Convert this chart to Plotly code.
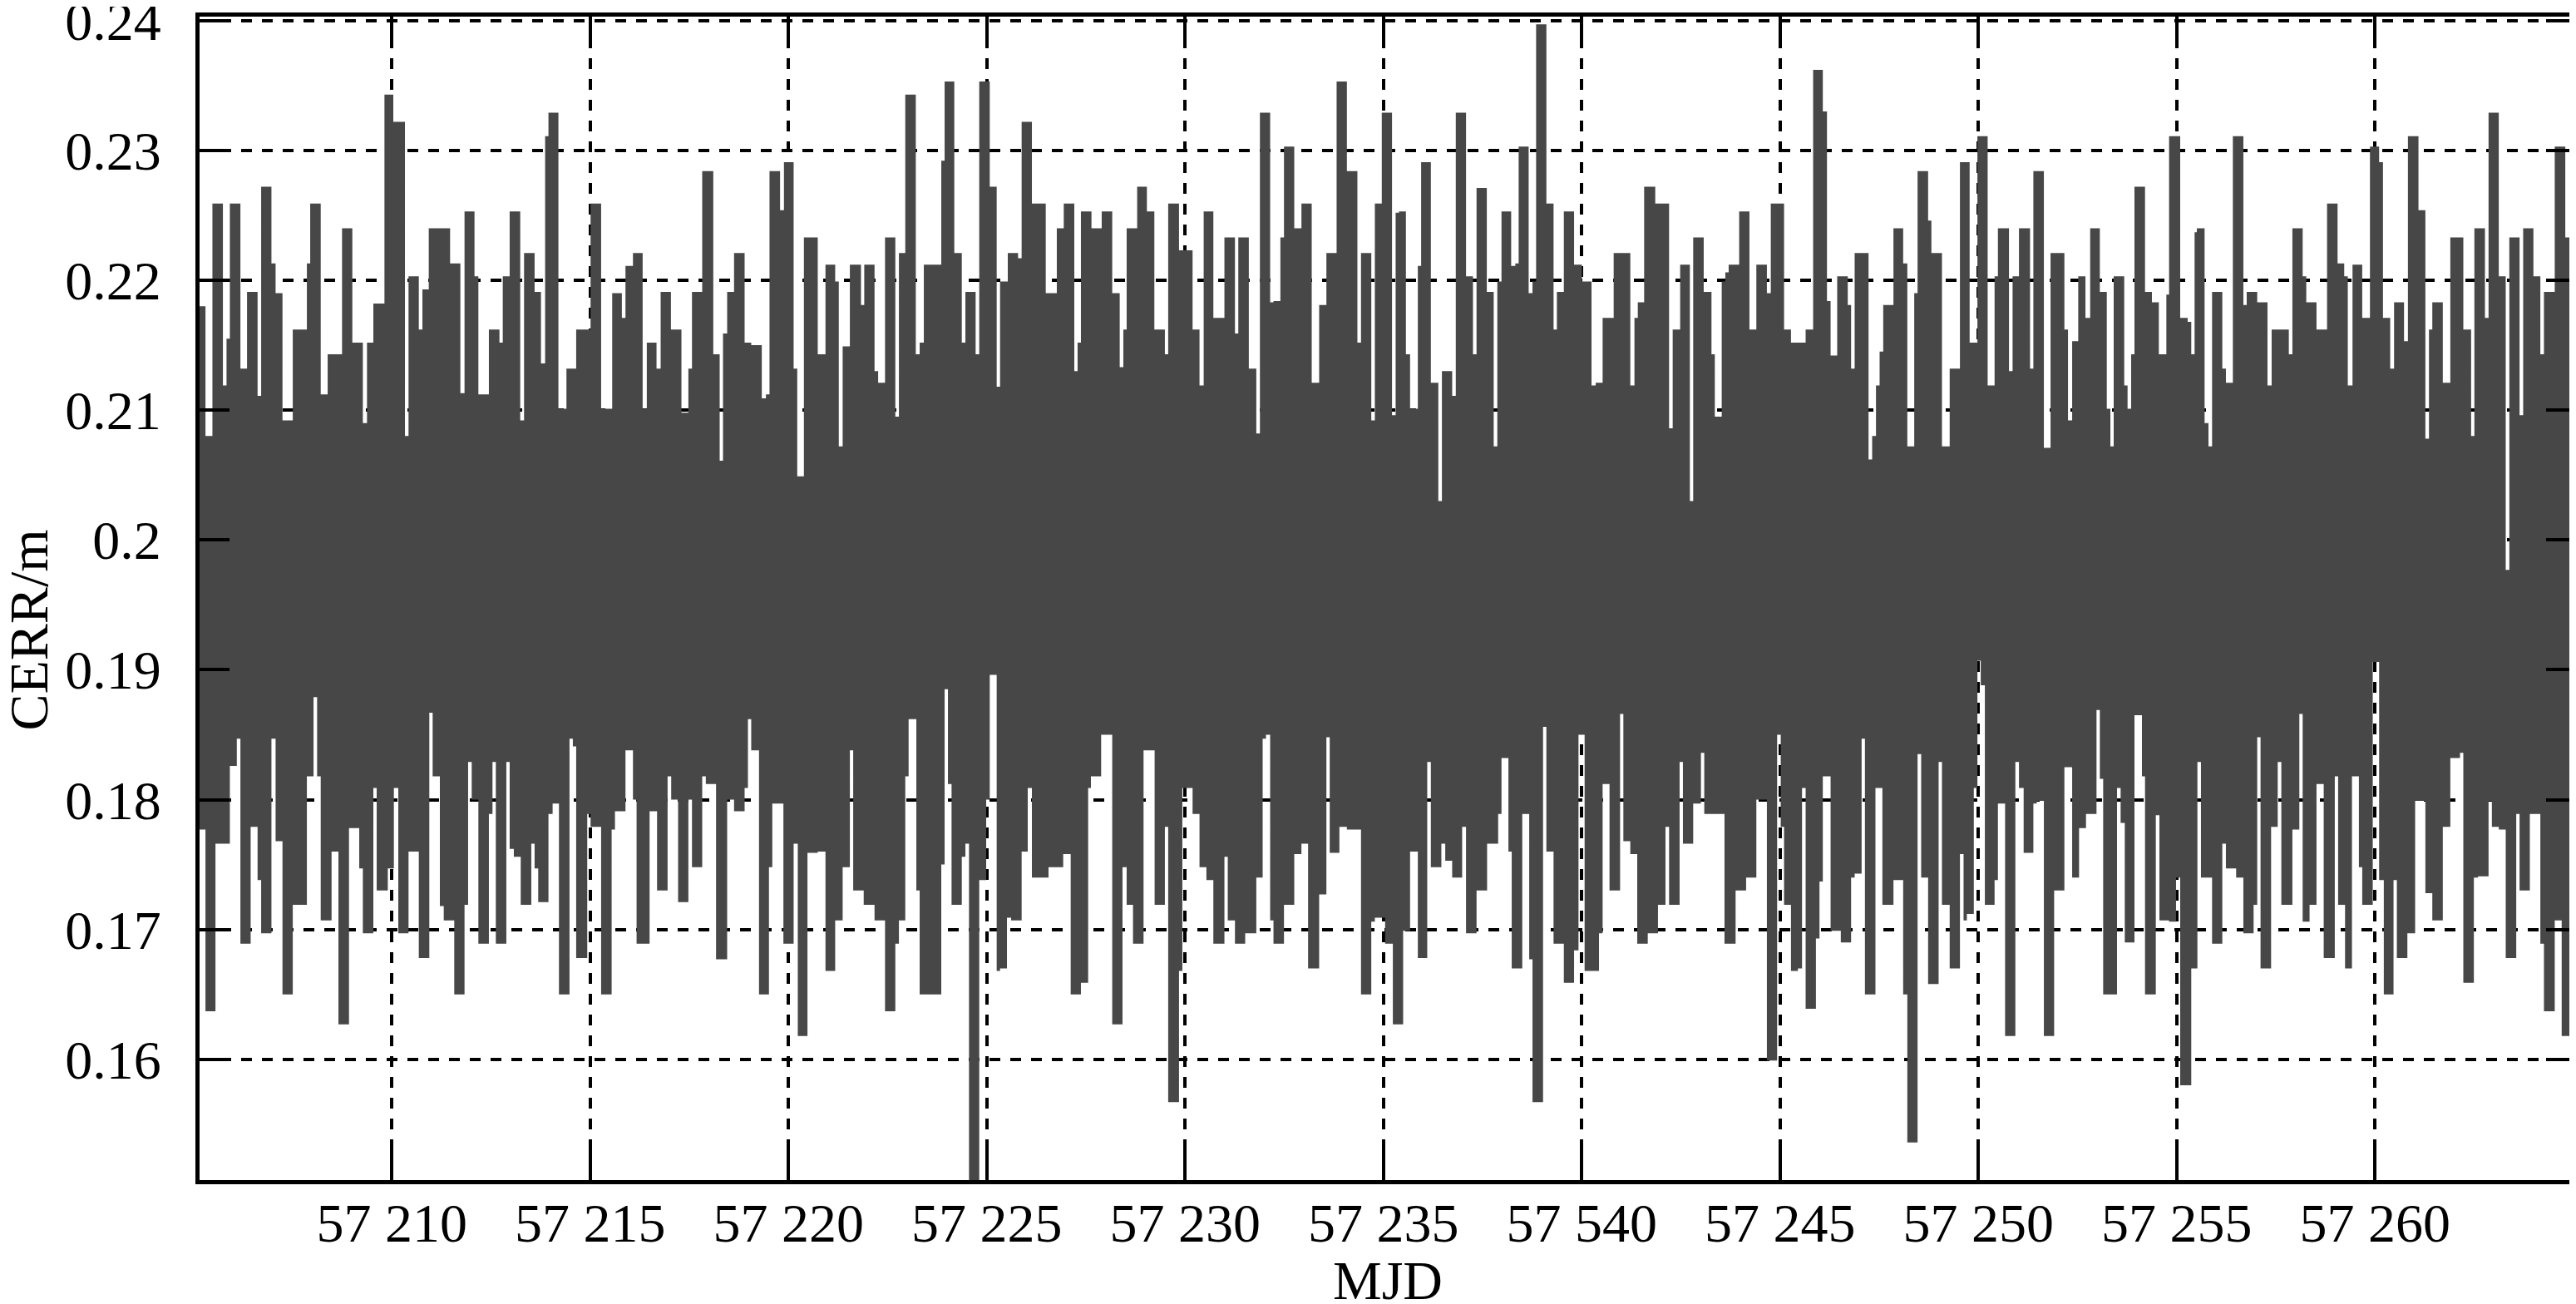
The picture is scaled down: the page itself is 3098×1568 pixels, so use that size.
import plotly.graph_objects as go

# upper edge of the CERR band: step starts (MJD) and values (m)
top_mjd = [
    57205.15, 57205.299, 57205.474, 57205.739, 57205.830, 57205.914, 57206.180, 57206.347, 57206.613, 57206.703,
    57206.962, 57207.067, 57207.241, 57207.500, 57207.856, 57207.940, 57208.205, 57208.380, 57208.743, 57209.002,
    57209.267, 57209.372, 57209.532, 57209.812, 57210.035, 57210.329, 57210.419, 57210.678, 57210.769, 57210.929,
    57211.467, 57211.726, 57211.831, 57212.082, 57212.180, 57212.445, 57212.711, 57212.795, 57212.969, 57213.235,
    57213.332, 57213.598, 57213.758, 57213.863, 57213.947, 57214.198, 57214.401, 57214.646, 57215.009,
    57215.275, 57215.554, 57215.798, 57215.889, 57216.078, 57216.322, 57216.427, 57216.672, 57216.776, 57217.035,
    57217.300, 57217.475, 57217.566, 57217.824, 57218.103, 57218.264, 57218.348, 57218.453, 57218.627, 57218.893,
    57219.060, 57219.326, 57219.431, 57219.521, 57219.787, 57219.885, 57220.129, 57220.220, 57220.388, 57220.737,
    57220.932, 57221.177, 57221.268, 57221.365, 57221.547, 57221.827, 57221.910, 57222.169, 57222.260, 57222.434,
    57222.693, 57222.784, 57222.944, 57223.209, 57223.307, 57223.412, 57223.852, 57223.936, 57224.180, 57224.369,
    57224.460, 57224.718, 57224.809, 57225.074, 57225.249,
    57225.334, 57225.529, 57225.788, 57225.878, 57226.137, 57226.486, 57226.765, 57226.940, 57227.206, 57227.289,
    57227.373, 57227.639, 57227.897, 57228.162, 57228.351, 57228.442, 57228.526, 57228.791, 57229.036, 57229.224,
    57229.490, 57229.573, 57229.846, 57230.188, 57230.363, 57230.468, 57230.712, 57230.991, 57231.257, 57231.341,
    57231.606, 57231.795, 57231.886, 57232.144, 57232.228, 57232.402, 57232.493, 57232.752, 57232.933, 57233.192,
    57233.380, 57233.562, 57233.820, 57234.079, 57234.344, 57234.435, 57234.694, 57234.784, 57234.959, 57235.217,
    57235.308,
    57235.393, 57235.567, 57235.672, 57235.868, 57235.951, 57236.196, 57236.384, 57236.475, 57236.734, 57236.825,
    57237.083, 57237.258, 57237.348, 57237.607, 57237.781, 57237.872, 57237.977, 57238.221, 57238.326, 57238.410,
    57238.662, 57238.759, 57238.850, 57239.109, 57239.290, 57239.374, 57239.549, 57239.807, 57240.003, 57240.247,
    57240.352, 57240.527, 57240.806, 57241.225, 57241.330, 57241.414, 57241.574, 57241.854, 57242.203, 57242.294,
    57242.482, 57242.727, 57242.811, 57243.076, 57243.272, 57243.356, 57243.530, 57243.621, 57243.705, 57243.970,
    57244.229, 57244.403, 57244.669, 57244.767, 57245.102, 57245.276,
    57245.451, 57245.646, 57245.835, 57246.079, 57246.184, 57246.275, 57246.442, 57246.708, 57246.792, 57246.882,
    57247.232, 57247.323, 57247.420, 57247.511, 57247.602, 57247.860, 57248.105, 57248.210, 57248.384, 57248.468,
    57248.734, 57248.817, 57249.083, 57249.278, 57249.537, 57249.781, 57249.977, 57250.235, 57250.410, 57250.494,
    57250.773, 57250.864, 57251.025, 57251.304, 57251.388, 57251.653, 57251.821, 57252.170, 57252.261, 57252.366,
    57252.519, 57252.701, 57252.820, 57253.064, 57253.239, 57253.330, 57253.413, 57253.679, 57253.763, 57253.853,
    57253.937, 57254.203, 57254.377, 57254.552, 57254.741, 57254.810, 57255.090, 57255.278, 57255.369, 57255.453,
    57255.510, 57255.705, 57255.803, 57255.894, 57256.152, 57256.243, 57256.418, 57256.683, 57256.767, 57257.032,
    57257.291, 57257.396, 57257.829, 57257.919, 57258.178, 57258.269, 57258.527, 57258.793, 57259.058, 57259.226,
    57259.316, 57259.435, 57259.680, 57259.875, 57260.106, 57260.203, 57260.385, 57260.483, 57260.734, 57260.832,
    57261.098, 57261.272, 57261.363, 57261.447, 57261.712, 57261.901, 57262.229, 57262.425, 57262.508, 57262.774,
    57262.865, 57263.123, 57263.298, 57263.389, 57263.647, 57263.738, 57263.996, 57264.171, 57264.262, 57264.534,
    57264.800,
]
top_cerr = [
    0.2180, 0.2080, 0.2259, 0.2119, 0.2155, 0.2259, 0.2132, 0.2191, 0.2111, 0.2272,
    0.2213, 0.2190, 0.2092, 0.2162, 0.2213, 0.2259, 0.2112, 0.2143, 0.2240, 0.2152,
    0.2090, 0.2152, 0.2182, 0.2343, 0.2322, 0.2080, 0.2203, 0.2162, 0.2193, 0.2240,
    0.2213, 0.2113, 0.2253, 0.2203, 0.2112, 0.2162, 0.2152, 0.2203, 0.2253, 0.2092,
    0.2221, 0.2191, 0.2136, 0.2311, 0.2329, 0.2101, 0.2132, 0.2162, 0.2259,
    0.2101, 0.2190, 0.2171, 0.2211, 0.2221, 0.2101, 0.2152, 0.2132, 0.2191, 0.2162,
    0.2098, 0.2132, 0.2191, 0.2284, 0.2143, 0.2061, 0.2159, 0.2191, 0.2221, 0.2152,
    0.2150, 0.2109, 0.2112, 0.2284, 0.2254, 0.2291, 0.2132, 0.2049, 0.2233, 0.2143,
    0.2212, 0.2199, 0.2072, 0.2149, 0.2212, 0.2181, 0.2212, 0.2130, 0.2121, 0.2233,
    0.2095, 0.2221, 0.2343, 0.2143, 0.2152, 0.2212, 0.2292, 0.2353, 0.2221, 0.2152,
    0.2191, 0.2143, 0.2353, 0.2272, 0.2118,
    0.2199, 0.2221, 0.2217, 0.2322, 0.2259, 0.2190, 0.2240, 0.2259, 0.2130, 0.2152,
    0.2253, 0.2240, 0.2253, 0.2190, 0.2133, 0.2162, 0.2240, 0.2272, 0.2253, 0.2162,
    0.2143, 0.2259, 0.2223, 0.2162, 0.2119, 0.2253, 0.2171, 0.2233, 0.2159, 0.2233,
    0.2132, 0.2082, 0.2329, 0.2183, 0.2184, 0.2233, 0.2303, 0.2240, 0.2259, 0.2121,
    0.2181, 0.2221, 0.2353, 0.2284, 0.2152, 0.2221, 0.2092, 0.2259, 0.2329, 0.2096,
    0.2252,
    0.2253, 0.2143, 0.2101, 0.2211, 0.2291, 0.2121, 0.2030, 0.2130, 0.2111, 0.2329,
    0.2203, 0.2143, 0.2271, 0.2191, 0.2072, 0.2199, 0.2253, 0.2211, 0.2213, 0.2303,
    0.2190, 0.2199, 0.2397, 0.2259, 0.2162, 0.2191, 0.2253, 0.2212, 0.2199, 0.2119,
    0.2121, 0.2171, 0.2221, 0.2119, 0.2171, 0.2183, 0.2272, 0.2259, 0.2086, 0.2162,
    0.2212, 0.2030, 0.2233, 0.2191, 0.2143, 0.2095, 0.2199, 0.2206, 0.2212, 0.2253,
    0.2162, 0.2212, 0.2190, 0.2259, 0.2162, 0.2152,
    0.2152, 0.2162, 0.2362, 0.2330, 0.2184, 0.2142, 0.2203, 0.2181, 0.2132, 0.2221,
    0.2062, 0.2080, 0.2119, 0.2145, 0.2181, 0.2240, 0.2213, 0.2072, 0.2190, 0.2284,
    0.2246, 0.2221, 0.2072, 0.2132, 0.2291, 0.2152, 0.2311, 0.2119, 0.2203, 0.2240,
    0.2130, 0.2203, 0.2240, 0.2132, 0.2284, 0.2071, 0.2221, 0.2162, 0.2092, 0.2153,
    0.2203, 0.2171, 0.2240, 0.2191, 0.2101, 0.2072, 0.2203, 0.2119, 0.2101, 0.2143,
    0.2272, 0.2191, 0.2183, 0.2143, 0.2189, 0.2311, 0.2171, 0.2168, 0.2143, 0.2237,
    0.2240, 0.2090, 0.2072, 0.2191, 0.2132, 0.2121, 0.2311, 0.2181, 0.2191, 0.2183,
    0.2119, 0.2162, 0.2143, 0.2240, 0.2203, 0.2183, 0.2162, 0.2259, 0.2213, 0.2203,
    0.2119, 0.2212, 0.2171, 0.2303, 0.2291, 0.2171, 0.2132, 0.2183, 0.2153, 0.2311,
    0.2254, 0.2078, 0.2162, 0.2183, 0.2121, 0.2233, 0.2162, 0.2080, 0.2240, 0.2171,
    0.2329, 0.2203, 0.1977, 0.2233, 0.2096, 0.2240, 0.2203, 0.2143, 0.2191, 0.2303,
    0.2233,
]

# lower edge of the CERR band
bottom_mjd = [
    57205.15, 57205.299, 57205.551, 57205.914, 57206.089, 57206.180, 57206.438, 57206.613, 57206.703, 57206.962,
    57207.067, 57207.241, 57207.500, 57207.856, 57208.024, 57208.114, 57208.205, 57208.478, 57208.652, 57208.918,
    57209.176, 57209.267, 57209.532, 57209.616, 57209.896, 57210.049, 57210.161, 57210.419, 57210.678, 57210.943,
    57211.027, 57211.209, 57211.307, 57211.572, 57211.831, 57211.921, 57212.012, 57212.180, 57212.445, 57212.536,
    57212.620, 57212.885, 57212.969, 57213.074, 57213.248, 57213.514, 57213.598, 57213.689, 57213.947, 57214.052,
    57214.212, 57214.478, 57214.562, 57214.646, 57214.925, 57215.009,
    57215.275, 57215.540, 57215.624, 57215.889, 57216.078, 57216.169, 57216.497, 57216.686, 57216.951, 57217.042,
    57217.216, 57217.475, 57217.566, 57217.824, 57217.915, 57218.173, 57218.453, 57218.627, 57218.893, 57218.977,
    57219.060, 57219.256, 57219.507, 57219.591, 57219.871, 57220.129, 57220.234, 57220.478, 57220.737, 57220.932,
    57221.177, 57221.365, 57221.547, 57221.631, 57221.896, 57222.169, 57222.434, 57222.693, 57222.784, 57222.944,
    57223.028, 57223.223, 57223.307, 57223.852, 57223.936, 57224.020, 57224.111, 57224.369, 57224.460, 57224.551,
    57224.809, 57224.984, 57225.074, 57225.249,
    57225.334, 57225.508, 57225.613, 57225.878, 57226.032, 57226.137, 57226.556, 57226.926, 57227.115, 57227.373,
    57227.555, 57227.625, 57227.883, 57228.162, 57228.421, 57228.526, 57228.686, 57228.952, 57229.231, 57229.490,
    57229.573, 57229.846, 57229.930, 57230.188, 57230.363, 57230.537, 57230.712, 57230.991, 57231.075, 57231.257,
    57231.515, 57231.795, 57231.955, 57232.039, 57232.144, 57232.228, 57232.493, 57232.752, 57232.933, 57233.101,
    57233.380, 57233.562, 57233.646, 57233.890, 57234.079, 57234.435, 57234.694, 57234.784, 57235.043, 57235.238,
    57235.393, 57235.497, 57235.672, 57235.868, 57236.105, 57236.196, 57236.461, 57236.559, 57236.734, 57236.985,
    57237.083, 57237.348, 57237.614, 57237.893, 57237.977, 57238.152, 57238.235, 57238.501, 57238.676, 57238.759,
    57239.025, 57239.109, 57239.290, 57239.549, 57239.807, 57239.919, 57240.073, 57240.436, 57240.527, 57240.701,
    57240.967, 57241.050, 57241.225, 57241.400, 57241.665, 57241.923, 57242.112, 57242.203, 57242.468, 57242.552,
    57242.811, 57243.006, 57243.090, 57243.600, 57243.880, 57244.145, 57244.403, 57244.669, 57244.927, 57245.018,
    57245.102, 57245.276,
    57245.451, 57245.555, 57245.646, 57245.905, 57245.995, 57246.079, 57246.275, 57246.533, 57246.792, 57246.882,
    57247.057, 57247.141, 57247.406, 57247.581, 57247.860, 57248.105, 57248.210, 57248.468, 57248.559, 57248.734,
    57248.999, 57249.083, 57249.278, 57249.537, 57249.628, 57249.711, 57249.886, 57249.977, 57250.061, 57250.165,
    57250.410, 57250.494, 57250.675, 57250.934, 57251.025, 57251.143, 57251.388, 57251.472, 57251.653, 57251.912,
    57252.170, 57252.366, 57252.540, 57252.715, 57252.980, 57253.064, 57253.148, 57253.497, 57253.588, 57253.693,
    57253.937, 57254.126, 57254.203, 57254.475, 57254.566, 57254.810, 57254.985, 57255.090, 57255.369,
    57255.524, 57255.614, 57255.894, 57256.152, 57256.243, 57256.501, 57256.683, 57256.941, 57257.032, 57257.116,
    57257.382, 57257.549, 57257.640, 57257.919, 57258.094, 57258.178, 57258.352, 57258.527, 57258.709, 57258.988,
    57259.072, 57259.247, 57259.421, 57259.596, 57259.680, 57259.945, 57260.106, 57260.224, 57260.469, 57260.553,
    57260.818, 57261.014, 57261.272, 57261.447, 57261.712, 57261.901, 57262.145, 57262.229, 57262.495, 57262.599,
    57262.865, 57262.949, 57263.123, 57263.298, 57263.563, 57263.647, 57263.906, 57264.171, 57264.262, 57264.534,
    57264.709, 57264.974,
]
bottom_cerr = [
    0.1777, 0.1637, 0.1766, 0.1826, 0.1847, 0.1689, 0.1779, 0.1738, 0.1697, 0.1847,
    0.1768, 0.1650, 0.1719, 0.1818, 0.1879, 0.1818, 0.1707, 0.1760, 0.1627, 0.1778,
    0.1747, 0.1697, 0.1809, 0.1730, 0.1747, 0.1809, 0.1697, 0.1760, 0.1678, 0.1867,
    0.1818, 0.1718, 0.1707, 0.1650, 0.1719, 0.1829, 0.1800, 0.1689, 0.1789, 0.1829,
    0.1689, 0.1829, 0.1762, 0.1756, 0.1719, 0.1766, 0.1747, 0.1721, 0.1789, 0.1797,
    0.1650, 0.1847, 0.1841, 0.1678, 0.1789, 0.1779,
    0.1650, 0.1777, 0.1791, 0.1838, 0.1800, 0.1689, 0.1791, 0.1730, 0.1818, 0.1800,
    0.1721, 0.1800, 0.1748, 0.1818, 0.1812, 0.1677, 0.1800, 0.1791, 0.1809, 0.1862,
    0.1838, 0.1650, 0.1748, 0.1797, 0.1689, 0.1766, 0.1618, 0.1759, 0.1760, 0.1668,
    0.1707, 0.1748, 0.1838, 0.1730, 0.1719, 0.1707, 0.1637, 0.1689, 0.1707, 0.1818,
    0.1862, 0.1730, 0.1650, 0.1750, 0.1885, 0.1812, 0.1719, 0.1756, 0.1766, 0.1500,
    0.1738, 0.1800, 0.1896, 0.1668,
    0.1670, 0.1709, 0.1707, 0.1760, 0.1809, 0.1740, 0.1748, 0.1758, 0.1650, 0.1659,
    0.1809, 0.1818, 0.1850, 0.1627, 0.1748, 0.1719, 0.1689, 0.1838, 0.1719, 0.1779,
    0.1567, 0.1668, 0.1809, 0.1789, 0.1748, 0.1738, 0.1689, 0.1756, 0.1707, 0.1689,
    0.1697, 0.1740, 0.1847, 0.1850, 0.1707, 0.1689, 0.1719, 0.1758, 0.1766, 0.1670,
    0.1727, 0.1848, 0.1759, 0.1779, 0.1777, 0.1650, 0.1706, 0.1709, 0.1689, 0.1627,
    0.1627, 0.1699, 0.1760, 0.1678, 0.1829, 0.1748, 0.1766, 0.1753, 0.1740, 0.1779,
    0.1697, 0.1730, 0.1766, 0.1789, 0.1832, 0.1760, 0.1670, 0.1789, 0.1677, 0.1567,
    0.1856, 0.1760, 0.1689, 0.1659, 0.1684, 0.1850, 0.1668, 0.1697, 0.1812, 0.1730,
    0.1866, 0.1768, 0.1758, 0.1689, 0.1697, 0.1719, 0.1779, 0.1719, 0.1829, 0.1766,
    0.1797, 0.1836, 0.1789, 0.1689, 0.1730, 0.1740, 0.1800, 0.1599, 0.1850, 0.1779,
    0.1719, 0.1668,
    0.1670, 0.1809, 0.1639, 0.1693, 0.1737, 0.1818, 0.1699, 0.1690, 0.1740, 0.1743,
    0.1847, 0.1650, 0.1809, 0.1719, 0.1738, 0.1650, 0.1536, 0.1835, 0.1740, 0.1658,
    0.1829, 0.1719, 0.1670, 0.1758, 0.1707, 0.1712, 0.1809, 0.1907, 0.1888, 0.1719,
    0.1738, 0.1797, 0.1618, 0.1829, 0.1809, 0.1759, 0.1797, 0.1799, 0.1618, 0.1730,
    0.1825, 0.1740, 0.1778, 0.1789, 0.1869, 0.1816, 0.1650, 0.1809, 0.1782, 0.1690,
    0.1865, 0.1818, 0.1650, 0.1788, 0.1707, 0.1706, 0.1740, 0.1580, 0.1670,
    0.1829, 0.1740, 0.1689, 0.1766, 0.1747, 0.1740, 0.1697, 0.1719, 0.1848, 0.1670,
    0.1779, 0.1829, 0.1719, 0.1777, 0.1866, 0.1706, 0.1719, 0.1812, 0.1678, 0.1818,
    0.1719, 0.1670, 0.1818, 0.1748, 0.1719, 0.1906, 0.1738, 0.1650, 0.1738, 0.1678,
    0.1697, 0.1799, 0.1728, 0.1707, 0.1779, 0.1832, 0.1836, 0.1659, 0.1740, 0.1741,
    0.1799, 0.1779, 0.1777, 0.1678, 0.1789, 0.1730, 0.1789, 0.1689, 0.1637, 0.1707,
    0.1618, 0.1865,
]

x_ticks = [57210, 57215, 57220, 57225, 57230, 57235, 57240, 57245, 57250, 57255, 57260]
x_tick_labels = ["57 210", "57 215", "57 220", "57 225", "57 230", "57 235",
                 "57 540", "57 245", "57 250", "57 255", "57 260"]
y_ticks = [0.16, 0.17, 0.18, 0.19, 0.20, 0.21, 0.22, 0.23, 0.24]
y_tick_labels = ["0.16", "0.17", "0.18", "0.19", "0.2", "0.21", "0.22", "0.23", "0.24"]

end_mjd = 57265.1
band_color = "#474747"
serif = "Liberation Serif"

fig = go.Figure()

fig.add_scatter(x=top_mjd + [end_mjd], y=top_cerr + [top_cerr[-1]],
                mode="lines", line=dict(shape="hv", width=0, color=band_color),
                hoverinfo="skip", showlegend=False)
fig.add_scatter(x=bottom_mjd + [end_mjd], y=bottom_cerr + [bottom_cerr[-1]],
                mode="lines", line=dict(shape="hv", width=0, color=band_color),
                fill="tonexty", fillcolor=band_color,
                hoverinfo="skip", showlegend=False)

axis_style = dict(
    showline=True, linewidth=5, linecolor="black", mirror="ticks",
    ticks="inside", ticklen=36, tickwidth=4, tickcolor="black",
    showgrid=True, gridcolor="black", gridwidth=4, griddash="13px,12px",
    zeroline=False, ticklabeloverflow="allow", automargin=False,
    tickfont=dict(family=serif, size=66, color="black"),
)

fig.update_layout(
    width=3098, height=1568,
    margin=dict(l=232, r=8, t=12, b=157),
    paper_bgcolor="white", plot_bgcolor="white",
    showlegend=False,
    font=dict(family=serif, size=66, color="black"),
)

fig.update_xaxes(axis_style, range=[57205.15, 57265.07],
                 tickvals=x_ticks, ticktext=x_tick_labels, ticklabelstandoff=-10,
                 title=dict(text="MJD", font=dict(family=serif, size=66), standoff=22))
fig.update_yaxes(axis_style, range=[0.1507, 0.2403],
                 tickvals=y_ticks, ticktext=y_tick_labels, ticklabelstandoff=28)

# y title sits close to the left edge, a little below the middle of the plot
fig.add_annotation(text="CERR/m", textangle=-90, showarrow=False,
                   xref="paper", yref="paper", x=-0.072, y=0.473,
                   xanchor="center", yanchor="middle",
                   font=dict(family=serif, size=66, color="black"))

fig.write_html("out.html")
